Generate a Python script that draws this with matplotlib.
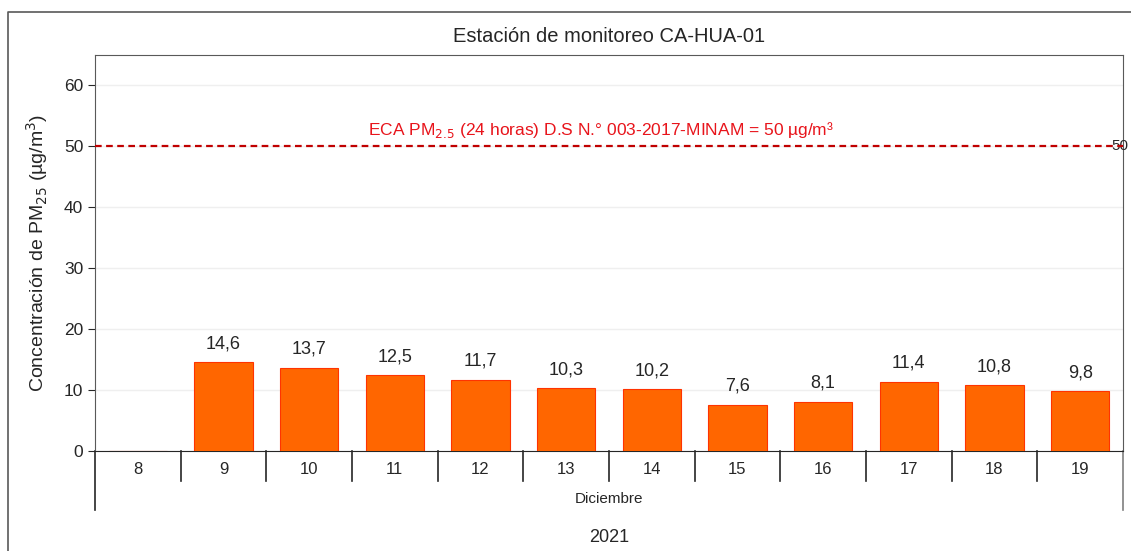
import numpy as np
import matplotlib.pyplot as plt
from matplotlib.lines import Line2D

plt.rcParams['font.family'] = ['Liberation Sans', 'DejaVu Sans']

days = ['8', '9', '10', '11', '12', '13', '14', '15', '16', '17', '18', '19']
pm25 = [np.nan, 14.6, 13.7, 12.5, 11.7, 10.3, 10.2, 7.6, 8.1, 11.4, 10.8, 9.8]
labels = ['', '14,6', '13,7', '12,5', '11,7', '10,3', '10,2', '7,6', '8,1', '11,4', '10,8', '9,8']
eca_limit = 50
month = 'Diciembre'
year = '2021'

fig = plt.figure(figsize=(11.31, 5.51), dpi=100)
ax = fig.add_axes([0.084, 0.1815, 0.9089, 0.7187])

x = np.arange(len(days))
vals = np.nan_to_num(np.array(pm25, dtype=float))
ax.bar(x, vals, width=0.68, color='#FF6600', edgecolor='#FF3300', linewidth=0.8, zorder=3)
for xi, v, lab in zip(x, vals, labels):
    if lab:
        ax.annotate(lab, (xi, v), xytext=(0, 7), textcoords='offset points',
                    ha='center', va='bottom', fontsize=13, color='#262626')

# ECA limit line
ax.axhline(eca_limit, color='#C00000', linestyle=(0, (3, 2)), linewidth=1.6, zorder=4)
ax.text(5.41, eca_limit + 1.0, 'ECA PM$_{2.5}$ (24 horas) D.S N.° 003-2017-MINAM = 50 µg/m³',
        ha='center', va='bottom', fontsize=12.5, color='#E8141B')
ax.text(11.37, eca_limit, '50', ha='left', va='center', fontsize=11, color='#262626',
        clip_on=False)

ax.set_xlim(-0.5, len(days) - 0.5)
ax.set_ylim(0, 65)
ax.set_yticks(np.arange(0, 61, 10))
ax.grid(axis='y', color='#EFEFEF', linewidth=1, zorder=0)
ax.tick_params(axis='y', labelsize=12.5, direction='out', length=5, colors='#262626')
ax.set_xticks(x)
ax.set_xticklabels(days)
ax.tick_params(axis='x', length=0, labelsize=12, pad=8, colors='#262626')

for s in ['top', 'right', 'left']:
    ax.spines[s].set_color('#595959')
ax.spines['bottom'].set_color('#262626')
ax.spines['left'].set_bounds(0, 65)

# category separators and extended spines below the axis
for b in np.arange(0.5, len(days) - 0.5, 1):
    ax.add_line(Line2D([b, b], [0, -0.0758], transform=ax.get_xaxis_transform(),
                       color='#262626', linewidth=1.2, clip_on=False))
for b in [-0.5, len(days) - 0.5]:
    ax.add_line(Line2D([b, b], [0, -0.149], transform=ax.get_xaxis_transform(),
                       color='#262626' if b < 0 else '#7F7F7F', linewidth=1.2, clip_on=False))

ax.text(0.5, -0.12, month, transform=ax.transAxes, ha='center', va='center',
        fontsize=11, color='#262626')
ax.text(0.5, -0.218, year, transform=ax.transAxes, ha='center', va='center',
        fontsize=13, color='#262626')

ax.set_ylabel('Concentración de PM$_{25}$ (µg/m$^3$)', fontsize=14, color='#262626', labelpad=10)
ax.set_title('Estación de monitoreo CA-HUA-01', fontsize=14.5, color='#262626', pad=9)

# outer chart frame
fig.add_artist(Line2D([8 / 1131, 8 / 1131, 1.0], [0.0, 1 - 12 / 551, 1 - 12 / 551],
                      transform=fig.transFigure, color='#595959', linewidth=1.2))

fig.savefig('out.png', dpi=100)
